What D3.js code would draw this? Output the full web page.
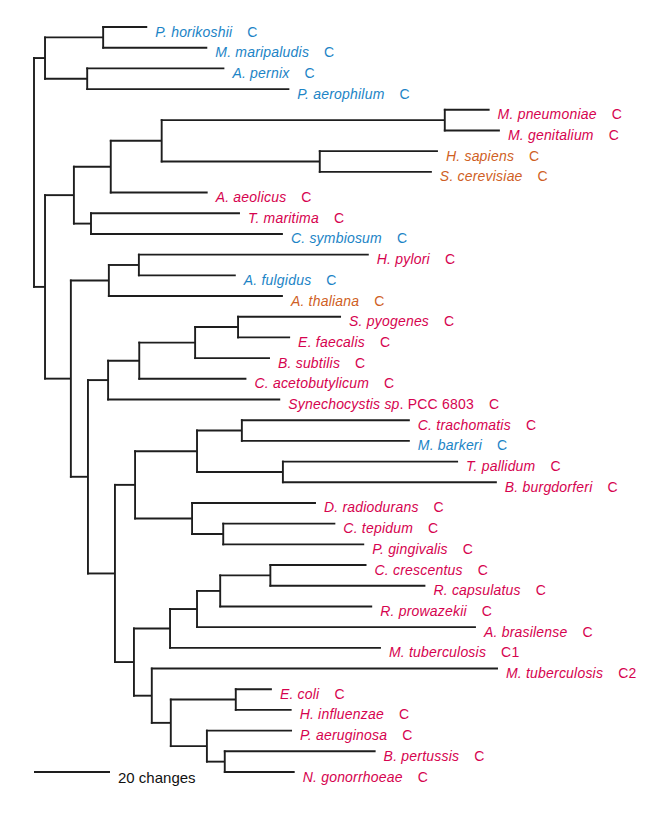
<!DOCTYPE html>
<html>
<head>
<meta charset="utf-8">
<script src="https://cdn.jsdelivr.net/npm/d3@7"></script>
<style>
  html, body { margin: 0; padding: 0; background: #ffffff; }
  svg { display: block; }
</style>
</head>
<body>
<svg id="chart" width="670" height="834"></svg>
<script>
// ---- DATA ----
const taxa = [
  "P. horikoshii", "M. maripaludis", "A. pernix", "P. aerophilum",
  "M. pneumoniae", "M. genitalium", "H. sapiens", "S. cerevisiae",
  "A. aeolicus", "T. maritima", "C. symbiosum", "H. pylori",
  "A. fulgidus", "A. thaliana", "S. pyogenes", "E. faecalis",
  "B. subtilis", "C. acetobutylicum", "Synechocystis sp", "C. trachomatis",
  "M. barkeri", "T. pallidum", "B. burgdorferi", "D. radiodurans",
  "C. tepidum", "P. gingivalis", "C. crescentus", "R. capsulatus",
  "R. prowazekii", "A. brasilense", "M. tuberculosis", "M. tuberculosis",
  "E. coli", "H. influenzae", "P. aeruginosa", "B. pertussis", "N. gonorrhoeae"
];
const taxonPlainPart = taxa.map((d, i) => i === 18 ? ". PCC 6803" : "");
const taxonSuffix = taxa.map((d, i) => i === 30 ? "C1" : i === 31 ? "C2" : "C");
const taxonGroup = [
  "arch", "arch", "arch", "arch",
  "bact", "bact", "euk", "euk",
  "bact", "bact", "arch", "bact",
  "arch", "euk", "bact", "bact",
  "bact", "bact", "bact", "bact",
  "arch", "bact", "bact", "bact",
  "bact", "bact", "bact", "bact",
  "bact", "bact", "bact", "bact",
  "bact", "bact", "bact", "bact", "bact"
];
const groupColors = { arch: "#1c84c6", bact: "#d6034f", euk: "#cf5f25" };

// edges: [node, parent, branch length in changes]; tips are "t<index into taxa>"
const edges = [
  ["root", "", 0],
  ["A", "root", 2.9],
  ["A1", "A", 15.3], ["t0", "A1", 11.6], ["t1", "A1", 27.4],
  ["A2", "A", 11.1], ["t2", "A2", 36.1], ["t3", "A2", 53.2],
  ["B", "root", 2.9],
  ["B1", "B", 7.6],
  ["B1a", "B1", 9.7],
  ["B1ai", "B1a", 13.4],
  ["Myco", "B1ai", 74.5], ["t4", "Myco", 11.8], ["t5", "Myco", 14.5],
  ["Euk", "B1ai", 41.6], ["t6", "Euk", 31.1], ["t7", "Euk", 29.5],
  ["t8", "B1a", 25.5],
  ["B1b", "B1", 4.5], ["t9", "B1b", 39.2], ["t10", "B1b", 50.5],
  ["B2", "B", 6.8],
  ["B2a", "B2", 10.0],
  ["B2ai", "B2a", 7.9], ["t11", "B2ai", 60.5], ["t12", "B2ai", 25.5],
  ["t13", "B2a", 45.8],
  ["B2b", "B2", 4.5],
  ["G1", "B2b", 5.3],
  ["G2", "G1", 8.2],
  ["G3", "G2", 14.7],
  ["G4", "G3", 11.3], ["t14", "G4", 27.1], ["t15", "G4", 13.7],
  ["t16", "G3", 19.7],
  ["t17", "G2", 28.2],
  ["t18", "G1", 45.3],
  ["H1", "B2b", 7.1],
  ["H2", "H1", 5.3],
  ["H3", "H2", 16.3],
  ["H4", "H3", 11.8], ["t19", "H4", 44.2], ["t20", "H4", 44.2],
  ["H5", "H3", 22.6], ["t21", "H5", 46.1], ["t22", "H5", 56.3],
  ["H6", "H2", 15.0], ["t23", "H6", 32.6],
  ["H7", "H6", 8.2], ["t24", "H7", 29.5], ["t25", "H7", 37.1],
  ["J1", "H1", 5.0],
  ["J2", "J1", 9.5],
  ["J3", "J2", 7.1],
  ["J4", "J3", 6.1],
  ["J5", "J4", 13.2], ["t26", "J5", 25.3], ["t27", "J5", 40.8],
  ["t28", "J4", 40.0],
  ["t29", "J3", 73.4],
  ["t30", "J2", 55.5],
  ["J6", "J1", 4.7], ["t31", "J6", 91.1],
  ["J7", "J6", 5.0],
  ["J8", "J7", 17.1], ["t32", "J8", 9.5], ["t33", "J8", 14.7],
  ["J9", "J7", 9.5], ["t34", "J9", 22.4],
  ["J10", "J9", 4.7], ["t35", "J10", 39.7], ["t36", "J10", 18.4]
];
const scaleBarChanges = 20;
const scaleBarLabel = "20 changes";

// ---- LAYOUT ----
const svg = d3.select("#chart");
const x = d3.scaleLinear().domain([0, 20]).range([34, 110]);
const y = d3.scaleLinear().domain([0, taxa.length - 1]).range([27, 772]);

const root = d3.stratify()
  .id(d => d[0])
  .parentId(d => d[1] === "" ? null : d[1])(edges);

root.eachBefore(n => { n.dist = n.parent ? n.parent.dist + n.data[2] : 0; });
root.leaves().forEach((n, i) => { n.yPos = y(i); });
root.eachAfter(n => {
  if (n.children) {
    n.yPos = (n.children[0].yPos + n.children[n.children.length - 1].yPos) / 2;
  }
});

const lineColor = "#1e1e1e";
const g = svg.append("g")
  .attr("stroke", lineColor)
  .attr("stroke-width", 1.9)
  .attr("fill", "none");

// horizontal branches
g.selectAll("line.h")
  .data(root.descendants().filter(n => n.parent))
  .join("line")
  .attr("class", "h")
  .attr("x1", n => x(n.parent.dist) - 0.95)
  .attr("x2", n => x(n.dist))
  .attr("y1", n => n.yPos)
  .attr("y2", n => n.yPos);

// vertical connectors
g.selectAll("line.v")
  .data(root.descendants().filter(n => n.children))
  .join("line")
  .attr("class", "v")
  .attr("x1", n => x(n.dist))
  .attr("x2", n => x(n.dist))
  .attr("y1", n => n.children[0].yPos - 0.95)
  .attr("y2", n => n.children[n.children.length - 1].yPos + 0.95);

// labels
const fontFamily = "'Liberation Sans', Arial, Helvetica, sans-serif";
const labels = svg.append("g")
  .attr("font-family", fontFamily)
  .attr("font-size", "14px")
  .selectAll("text")
  .data(root.leaves())
  .join("text")
  .attr("x", n => x(n.dist) + 8)
  .attr("y", n => n.yPos + 9.5)
  .attr("fill", n => groupColors[taxonGroup[+n.id.slice(1)]])
  .attr("letter-spacing", "0.2px");

labels.append("tspan")
  .attr("font-style", "italic")
  .text(n => taxa[+n.id.slice(1)]);
labels.filter(n => taxonPlainPart[+n.id.slice(1)] !== "")
  .append("tspan")
  .text(n => taxonPlainPart[+n.id.slice(1)]);
labels.append("tspan")
  .attr("dx", 15)
  .text(n => taxonSuffix[+n.id.slice(1)]);

// scale bar
svg.append("line")
  .attr("x1", x(0)).attr("x2", x(scaleBarChanges))
  .attr("y1", y(taxa.length - 1)).attr("y2", y(taxa.length - 1))
  .attr("stroke", lineColor).attr("stroke-width", 1.9);
svg.append("text")
  .attr("x", x(scaleBarChanges) + 8)
  .attr("y", y(taxa.length - 1) + 10.5)
  .attr("font-family", fontFamily)
  .attr("font-size", "15px")
  .attr("fill", "#111")
  .text(scaleBarLabel);
</script>
</body>
</html>
